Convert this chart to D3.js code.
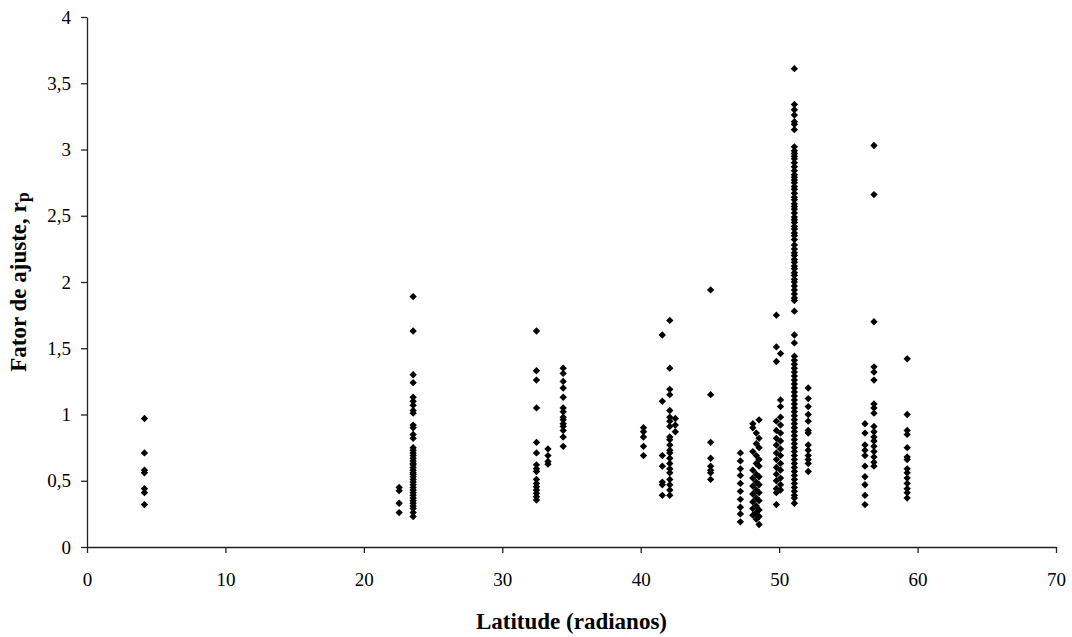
<!DOCTYPE html>
<html>
<head>
<meta charset="utf-8">
<script src="https://cdn.jsdelivr.net/npm/d3@7"></script>
<style>
  body { margin: 0; background: #fff; }
  text { font-family: "Liberation Serif", "Times New Roman", serif; }
</style>
</head>
<body>
<div id="chart"></div>
<script>
// tick labels
const xTicks = [0, 10, 20, 30, 40, 50, 60, 70];
const yTicks = [0, 0.5, 1, 1.5, 2, 2.5, 3, 3.5, 4];

// latitude of each column of points
const siteLat = [4.15, 22.55, 23.56, 32.47, 33.3, 34.4, 40.2, 41.56, 42.1, 42.5, 45.05,
  47.2, 48.1, 48.35, 48.55, 49.8, 50.1, 51.1, 52.1, 56.2, 56.85, 59.25];

// fator de ajuste values read for each column
const siteRp = [
  [0.97, 0.71, 0.58, 0.56, 0.44, 0.41, 0.32],
  [0.45, 0.425, 0.33, 0.26],
  [1.89, 1.63, 1.30, 1.24, 1.13, 1.10, 1.07, 1.03, 1.01, 0.92, 0.90, 0.85, 0.82, 0.75, 0.73,
   0.71, 0.69, 0.67, 0.65, 0.63, 0.62, 0.60, 0.58, 0.56, 0.55, 0.53, 0.51, 0.49, 0.47, 0.45,
   0.43, 0.41, 0.39, 0.37, 0.35, 0.33, 0.31, 0.29, 0.26, 0.23],
  [1.63, 1.33, 1.26, 1.05, 0.79, 0.71, 0.62, 0.59, 0.57, 0.51, 0.48, 0.455, 0.43, 0.405, 0.38, 0.355],
  [0.74, 0.69, 0.645, 0.625],
  [1.35, 1.31, 1.25, 1.20, 1.13, 1.05, 1.02, 0.98, 0.96, 0.93, 0.91, 0.88, 0.83, 0.76],
  [0.90, 0.87, 0.83, 0.76, 0.69],
  [1.60, 1.10, 0.69, 0.61, 0.49, 0.47, 0.39],
  [1.71, 1.35, 1.19, 1.15, 1.03, 0.98, 0.95, 0.91, 0.83, 0.81, 0.77, 0.73, 0.71, 0.67, 0.63,
   0.59, 0.56, 0.51, 0.47, 0.43, 0.39],
  [0.97, 0.92, 0.87],
  [1.94, 1.15, 0.79, 0.67, 0.61, 0.58, 0.56, 0.51],
  [0.71, 0.65, 0.59, 0.54, 0.48, 0.42, 0.36, 0.30, 0.25, 0.19],
  [0.93, 0.90, 0.72, 0.58, 0.52, 0.46, 0.40, 0.34, 0.29, 0.24],
  [0.86, 0.78, 0.69, 0.63, 0.55, 0.49, 0.43, 0.37, 0.31, 0.26, 0.21],
  [0.96, 0.82, 0.75, 0.66, 0.61, 0.53, 0.47, 0.41, 0.35, 0.28, 0.23, 0.17],
  [1.75, 1.51, 1.40, 0.95, 0.88, 0.82, 0.77, 0.71, 0.66, 0.60, 0.55, 0.50, 0.44, 0.41, 0.32],
  [1.46, 1.11, 1.06, 0.98, 0.92, 0.86, 0.80, 0.74, 0.69, 0.63, 0.58, 0.52, 0.47, 0.43],
  [3.61, 3.34, 3.30, 3.26, 3.21, 3.19, 3.15, 3.02, 2.99, 2.97, 2.95, 2.93, 2.90, 2.87, 2.84,
   2.81, 2.79, 2.77, 2.75, 2.72, 2.70, 2.67, 2.64, 2.62, 2.59, 2.57, 2.55, 2.52, 2.49, 2.47,
   2.45, 2.42, 2.40, 2.37, 2.35, 2.32, 2.28, 2.25, 2.22, 2.20, 2.17, 2.15, 2.12, 2.10, 2.07,
   2.05, 2.02, 2.00, 1.97, 1.94, 1.91, 1.88, 1.86, 1.78, 1.60, 1.54,
   1.44, 1.41, 1.38, 1.35, 1.32, 1.29, 1.26, 1.23, 1.20, 1.17, 1.14, 1.11, 1.08, 1.05, 1.02,
   0.99, 0.96, 0.93, 0.90, 0.87, 0.84, 0.81, 0.78, 0.75, 0.72, 0.69, 0.66, 0.63, 0.60, 0.57,
   0.54, 0.51, 0.48, 0.45, 0.42, 0.39, 0.37, 0.33],
  [1.20, 1.12, 1.06, 1.00, 0.95, 0.88, 0.86, 0.77, 0.73, 0.69, 0.66, 0.63, 0.57],
  [0.93, 0.86, 0.77, 0.73, 0.69, 0.61, 0.53, 0.47, 0.39, 0.32],
  [3.03, 2.66, 1.70, 1.36, 1.32, 1.26, 1.08, 1.05, 1.01, 0.91, 0.87, 0.83, 0.80, 0.76, 0.72,
   0.68, 0.64, 0.61],
  [1.42, 1.00, 0.88, 0.85, 0.75, 0.68, 0.66, 0.59, 0.56, 0.52, 0.48, 0.44, 0.41, 0.37]
];

const width = 1072;
const height = 637;
const margin = { top: 17, right: 16, bottom: 90, left: 87 };
const plotW = width - margin.left - margin.right;
const plotH = height - margin.top - margin.bottom;

const points = [];
siteLat.forEach((lat, i) => siteRp[i].forEach(v => points.push([lat, v])));

const fmt = d => String(d).replace(".", ",");

const svg = d3.select("#chart").append("svg")
  .attr("width", width)
  .attr("height", height);

const g = svg.append("g")
  .attr("transform", `translate(${margin.left},${margin.top})`);

const xScale = d3.scaleLinear().domain([0, 70]).range([0, plotW]);
const yScale = d3.scaleLinear().domain([0, 4]).range([plotH, 0]);

// x axis
const xAxis = g.append("g")
  .attr("transform", `translate(0,${plotH})`)
  .call(d3.axisBottom(xScale).tickValues(xTicks).tickSize(6).tickSizeOuter(0).tickPadding(20).tickFormat(fmt));

// y axis
const yAxis = g.append("g")
  .call(d3.axisLeft(yScale).tickValues(yTicks).tickSize(6).tickSizeOuter(0).tickPadding(10).tickFormat(fmt));

[xAxis, yAxis].forEach(a => {
  a.select(".domain").attr("stroke", "#222").attr("stroke-width", 1.3);
  a.selectAll(".tick line").attr("stroke", "#222").attr("stroke-width", 1.3);
  a.selectAll(".tick text")
    .attr("fill", "#000")
    .style("font-size", "19px")
    .style("font-family", "'Liberation Serif', serif");
});

// points (excel style diamonds)
g.append("g")
  .selectAll("path")
  .data(points)
  .enter()
  .append("path")
  .attr("d", d3.symbol().type(d3.symbolSquare).size(27))
  .attr("transform", d => `translate(${xScale(d[0])},${yScale(d[1])}) rotate(45)`)
  .attr("fill", "#000");

// axis titles
svg.append("text")
  .attr("x", margin.left + plotW / 2)
  .attr("y", 629)
  .attr("text-anchor", "middle")
  .style("font-size", "23px")
  .style("font-weight", "bold")
  .text("Latitude (radianos)");

const yTitle = svg.append("text")
  .attr("transform", `translate(26,${margin.top + plotH / 2}) rotate(-90)`)
  .attr("text-anchor", "middle")
  .style("font-size", "23px")
  .style("font-weight", "bold");
yTitle.append("tspan").text("Fator de ajuste, r");
yTitle.append("tspan").attr("dy", 3).style("font-size", "18px").text("p");
</script>
</body>
</html>
